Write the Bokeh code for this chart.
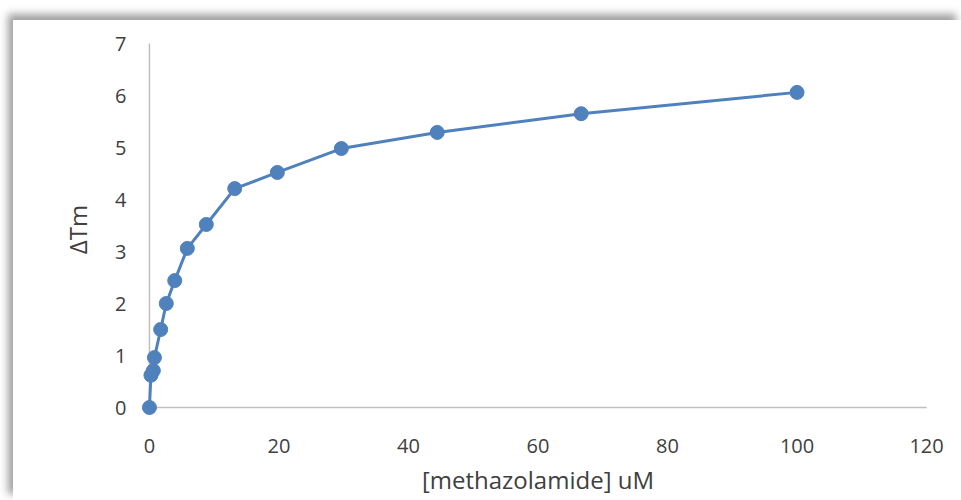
from bokeh.plotting import figure
from bokeh.models import Range1d, FixedTicker
from bokeh.embed import file_html
from bokeh.resources import INLINE

# ---- data ----
conc = [0, 0.23, 0.6, 0.77, 1.73, 2.6, 3.9, 5.85, 8.78, 13.17, 19.75, 29.63, 44.44, 66.67, 100]
dtm = [0, 0.62, 0.71, 0.96, 1.50, 2.00, 2.44, 3.06, 3.52, 4.21, 4.52, 4.98, 5.29, 5.65, 6.06]
x_ticks = [0, 20, 40, 60, 80, 100, 120]
y_ticks = [0, 1, 2, 3, 4, 5, 6, 7]
x_title = "[methazolamide] uM"
y_title = "\u0394Tm"

FONT = "Open Sans"
TXT = "#404040"
BLUE = "#4F81BD"
AXIS = "#BFBFBF"

p = figure(width=948, height=480, output_backend="svg", toolbar_location=None,
           x_range=Range1d(-2, 122), y_range=Range1d(-16 / 52, 7 + 8 / 52),
           min_border_left=123, min_border_right=22, min_border_top=15, min_border_bottom=77,
           margin=(20, 0, 0, 13))
p.styles = {"box-shadow": "-5px -6px 8px rgba(0,0,0,0.38)"}
p.outline_line_color = None
p.background_fill_color = "white"
p.border_fill_color = "white"
p.xgrid.visible = False
p.ygrid.visible = False

for ax, ticks in ((p.xaxis[0], x_ticks), (p.yaxis[0], y_ticks)):
    ax.ticker = FixedTicker(ticks=ticks)
    ax.axis_line_color = None
    ax.major_tick_line_color = None
    ax.minor_tick_line_color = None
    ax.major_tick_out = 0
    ax.major_tick_in = 0
    ax.major_label_text_font = FONT
    ax.major_label_text_font_size = "20px"
    ax.major_label_text_color = TXT
    ax.axis_label_text_font = FONT
    ax.axis_label_text_font_size = "24px"
    ax.axis_label_text_font_style = "normal"
    ax.axis_label_text_color = TXT
p.xaxis.major_label_standoff = 15
p.yaxis.major_label_standoff = 10
p.xaxis.axis_label = x_title
p.yaxis.axis_label = y_title
p.xaxis.axis_label_standoff = 7
p.yaxis.axis_label_standoff = 18

# axis lines
p.segment(x0=x_ticks[0], y0=y_ticks[0], x1=x_ticks[-1], y1=y_ticks[0], line_color=AXIS, line_width=1.5)
p.segment(x0=x_ticks[0], y0=y_ticks[0], x1=x_ticks[0], y1=y_ticks[-1], line_color=AXIS, line_width=1.5)

# series
p.line(conc, dtm, line_color=BLUE, line_width=3)
p.scatter(conc, dtm, size=14, fill_color=BLUE, line_color=BLUE, line_width=1)

open("out.html", "w").write(file_html(p, INLINE))
